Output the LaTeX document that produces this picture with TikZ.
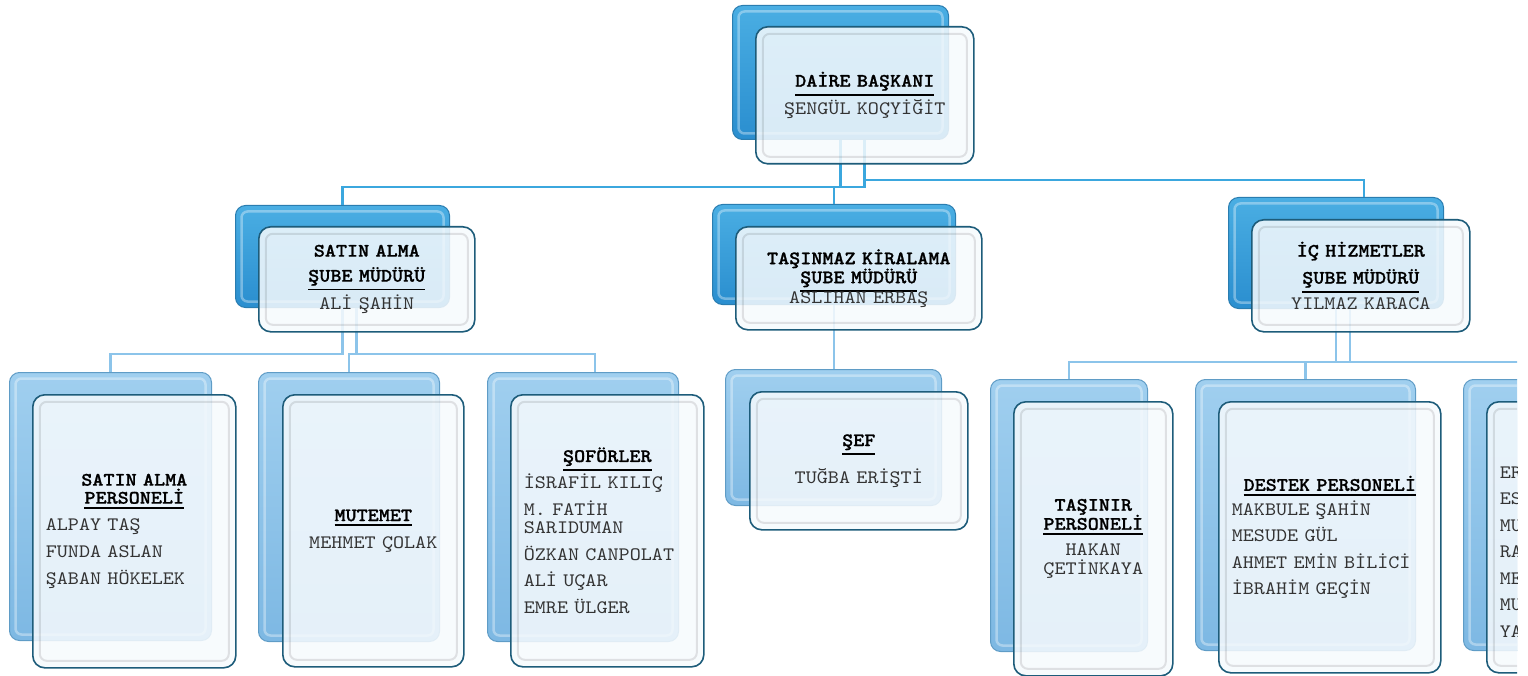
\documentclass[tikz,border=0pt]{standalone}
\usepackage{fontspec}
\newfontfamily\cour{lmmono10-regular.otf}[BoldFont=lmmonolt10-bold.otf, BoldFeatures={FakeBold=1}, FakeStretch=1.11]
\definecolor{bkTop}{HTML}{4AAEE3}
\definecolor{bkBot}{HTML}{2A8ECF}
\definecolor{bkLine}{HTML}{2A7DB0}
\definecolor{blTop}{HTML}{A0CFEF}
\definecolor{blBot}{HTML}{7DB8E3}
\definecolor{blLine}{HTML}{5F9CC6}
\definecolor{frLine}{HTML}{1D5C7A}
\definecolor{frFill}{HTML}{F6FAFD}
\definecolor{conTop}{HTML}{3BA7DE}
\definecolor{conLow}{HTML}{8CC4EA}
\definecolor{nameCol}{HTML}{333333}
\newcommand\uh[1]{\leavevmode{\color{black}\setbox0\hbox{\bfseries #1}\vtop{\copy0\kern3pt\hrule height 1.8pt width \wd0}}}
\newcommand\hb[1]{\leavevmode{\color{black}\bfseries #1}}
\newcommand\nm[1]{\leavevmode\makebox[\linewidth][l]{#1}}
\tikzset{
  bkbox/.style={anchor=north west, rounded corners=10pt, draw=bkLine, line width=1pt,
    top color=bkTop, bottom color=bkBot,
    path picture={\draw[white, opacity=0.35, line width=2.5pt, rounded corners=6pt]
      ([shift={(6pt,-6pt)}]path picture bounding box.north west) rectangle
      ([shift={(-6pt,6pt)}]path picture bounding box.south east);}},
  bkboxl/.style={bkbox, draw=blLine, top color=blTop, bottom color=blBot},
  frbox/.style={anchor=north west, rounded corners=12pt, draw=frLine, line width=1.6pt,
    fill=frFill, fill opacity=0.86, text opacity=1, draw opacity=1,
    inner xsep=13pt, inner ysep=0pt, align=center, text=nameCol,
    font=\cour\fontsize{19pt}{19pt}\selectfont,
    execute at begin node={\lineskiplimit=-100pt\relax\lineskip=0pt\relax},
    path picture={\draw[black, opacity=0.10, line width=2pt, rounded corners=7pt]
      ([shift={(7pt,-7pt)}]path picture bounding box.north west) rectangle
      ([shift={(-7pt,7pt)}]path picture bounding box.south east);}},
  conA/.style={draw=conTop, line width=2.2pt},
  conB/.style={draw=conLow, line width=2.2pt},
}
\begin{document}
\begin{tikzpicture}[x=1pt,y=-1pt]
\useasboundingbox (0,0) rectangle (1528,676);
\clip (0,0) rectangle (1517,676);
% back boxes
\node[bkbox, minimum width=216pt, minimum height=134pt] (topb) at (732,5) {};
\node[bkbox, minimum width=214pt, minimum height=102pt] (satb) at (235,205) {};
\node[bkbox, minimum width=243pt, minimum height=100pt] (tasb) at (712,204) {};
\node[bkbox, minimum width=215pt, minimum height=111pt] (icb) at (1228,197) {};
\node[bkboxl, minimum width=202pt, minimum height=268pt] (sapb) at (9,372) {};
\node[bkboxl, minimum width=181pt, minimum height=269pt] (mutb) at (258,372) {};
\node[bkboxl, minimum width=191pt, minimum height=269pt] (sofb) at (487,372) {};
\node[bkboxl, minimum width=216pt, minimum height=136pt] (sefb) at (725,369) {};
\node[bkboxl, minimum width=157pt, minimum height=272pt] (tnrb) at (990,379) {};
\node[bkboxl, minimum width=220pt, minimum height=271pt] (desb) at (1195,379) {};
\node[bkboxl, minimum width=220pt, minimum height=271pt] (thb) at (1463,379) {};
% connectors
\draw[conA] (topb.south) -- ++(0,47) -| (satb.north);
\draw[conA] ([xshift=24pt]topb.south) -- ++(0,40) -| ([xshift=28pt]icb.north);
\draw[conA] ([xshift=24pt]topb.south) -- ++(0,47) -| (tasb.north);
\draw[conB] (satb.south) -- ++(0,46) -| (sapb.north);
\draw[conB] ([xshift=14pt]satb.south) -- ++(0,46) -| (mutb.north);
\draw[conB] ([xshift=14pt]satb.south) -- ++(0,46) -| ([xshift=12pt]sofb.north);
\draw[conB] (tasb.south) -- (tasb.south |- sefb.north);
\draw[conB] (icb.south) -- ++(0,53) -| (tnrb.north);
\draw[conB] ([xshift=14pt]icb.south) -- ++(0,53) -| (desb.north);
\draw[conB] ([xshift=14pt]icb.south) -- ++(0,53) -| (thb.north);
% front boxes
\node[frbox, minimum width=218pt, minimum height=137pt, text width=192pt] (top) at (755,26)
  {\uh{DAİRE BAŞKANI}\\[9pt]ŞENGÜL KOÇYİĞİT};
\node[frbox, minimum width=216pt, minimum height=105pt, text width=190pt] (sat) at (258,226)
  {\hb{SATIN ALMA}\\[6pt]\uh{ŞUBE MÜDÜRÜ}\\[9pt]ALİ ŞAHİN};
\node[frbox, minimum width=246pt, minimum height=103pt, text width=220pt] (tas) at (735,226)
  {\hb{TAŞINMAZ KİRALAMA}\\\uh{ŞUBE MÜDÜRÜ}\\[1pt]ASLIHAN ERBAŞ};
\node[frbox, minimum width=218pt, minimum height=112pt, text width=192pt] (ic) at (1251,219)
  {\hb{İÇ HİZMETLER}\\[8pt]\uh{ŞUBE MÜDÜRÜ}\\[7pt]YILMAZ KARACA};
\node[frbox, minimum width=203pt, minimum height=273pt, text width=177pt] (sap) at (32,394)
  {\hb{SATIN ALMA}\\[-1pt]\uh{PERSONELİ}\\[8pt]\nm{ALPAY TAŞ}\\[8pt]\nm{FUNDA ASLAN}\\[8pt]\nm{ŞABAN HÖKELEK}};
\node[frbox, minimum width=181pt, minimum height=272pt, text width=155pt] (mut) at (282,394)
  {\uh{MUTEMET}\\[8pt]MEHMET ÇOLAK};
\node[frbox, minimum width=193pt, minimum height=272pt, text width=167pt] (sof) at (510,394)
  {\uh{ŞOFÖRLER}\\[8pt]\nm{İSRAFİL KILIÇ}\\[8pt]\nm{M. FATİH}\\[-1pt]\nm{SARIDUMAN}\\[8pt]\nm{ÖZKAN CANPOLAT}\\[7pt]\nm{ALİ UÇAR}\\[8pt]\nm{EMRE ÜLGER}};
\node[frbox, minimum width=218pt, minimum height=138pt, text width=192pt] (sef) at (749,391)
  {\uh{ŞEF}\\[18pt]TUĞBA ERİŞTİ};
\node[frbox, minimum width=159pt, minimum height=274pt, text width=133pt] (tnr) at (1013,401)
  {\hb{TAŞINIR}\\\uh{PERSONELİ}\\[7pt]HAKAN\\ÇETİNKAYA};
\node[frbox, minimum width=222pt, minimum height=271pt, text width=196pt] (des) at (1218,401)
  {\uh{DESTEK PERSONELİ}\\[6pt]\nm{MAKBULE ŞAHİN}\\[7pt]\nm{MESUDE GÜL}\\[8pt]\nm{AHMET EMİN BİLİCİ}\\[7pt]\nm{İBRAHİM GEÇİN}};
\node[frbox, minimum width=222pt, minimum height=271pt, text width=196pt] (th) at (1486,401)
  {\nm{\rule{0pt}{14pt}}\\[7.5pt]\nm{ER}\\[7.5pt]\nm{ES}\\[7.5pt]\nm{MU}\\[7.5pt]\nm{RA}\\[7.5pt]\nm{ME}\\[7.5pt]\nm{MU}\\[7.5pt]\nm{YA}};
\end{tikzpicture}
\end{document}
